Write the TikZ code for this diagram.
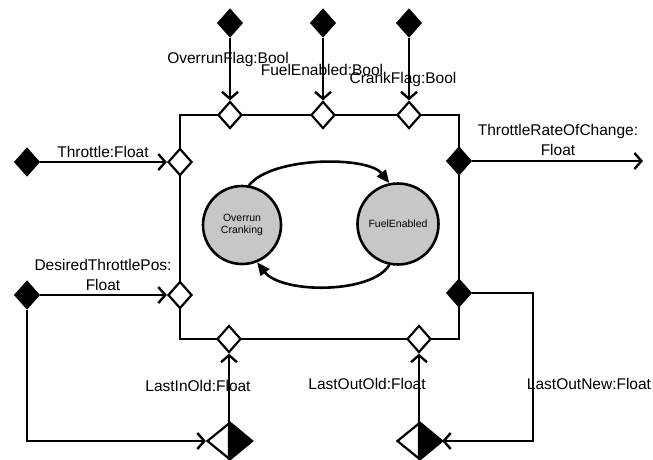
\documentclass[tikz,border=0pt]{standalone}
\usepackage{fontspec}
\setmainfont{Liberation Sans}
\usetikzlibrary{arrows.meta,shapes.geometric}
\begin{document}
\begin{tikzpicture}[x=1pt,y=-1pt,line width=2.6pt,
  inport/.style={diamond,draw,fill=white,minimum width=24pt,minimum height=27pt,inner sep=0pt,line width=2.2pt},
  srcport/.style={diamond,draw,fill=black,minimum width=24pt,minimum height=27pt,inner sep=0pt,line width=2.2pt},
  halfport/.style={diamond,draw,fill=white,minimum width=44pt,minimum height=36pt,inner sep=0pt,line width=2.2pt},
  halffill/.style={fill=black,draw=black,line width=2.2pt,line join=miter},
  flow/.style={line width=2.6pt,-{Straight Barb[length=7pt,width=16pt,line width=2.4pt]}},
  wire/.style={line width=2.6pt},
  trans/.style={line width=2.6pt,-{Triangle[length=13pt,width=11pt]}},
  state/.style={circle,draw,fill=black!22,line width=2.6pt,inner sep=0pt,align=center,font=\fontsize{10.5}{12}\selectfont},
  lbl/.style={align=center,inner sep=0pt,font=\fontsize{15.5}{19.5}\selectfont}]
\useasboundingbox (0,0) rectangle (653,459);
% main box
\draw[wire] (180,115) rectangle (459,339);
% states
\node[state,minimum size=78pt] (oc) at (242,225) {Overrun\\Cranking};
\node[state,minimum size=81pt] (fe) at (398,224) {FuelEnabled};
\draw[trans] (oc.80) .. controls (272,156) and (368,156) .. (fe.102);
\draw[trans] (fe.258) .. controls (372,294) and (282,294) .. (oc.292);
% top inputs
\node[srcport] (sof) at (230,23) {};
\node[srcport] (sfe) at (323,23) {};
\node[srcport] (scf) at (409,23) {};
\node[inport] (pof) at (230,115) {};
\node[inport] (pfe) at (323,115) {};
\node[inport] (pcf) at (409,115) {};
\draw[flow] (sof.south) -- (pof.north);
\draw[flow] (sfe.south) -- (pfe.north);
\draw[flow] (scf.south) -- (pcf.north);
\node[lbl] (lof) at (228,59) {OverrunFlag:Bool};
\node[lbl] (lfe) at (322,70) {FuelEnabled:Bool};
\node[lbl] (lcf) at (403,79) {CrankFlag:Bool};
% left inputs
\node[srcport] (sth) at (27,162) {};
\node[inport] (pth) at (180,162) {};
\draw[flow] (sth.east) -- (pth.west);
\node[lbl] (lth) at (103,152) {Throttle:Float};
\node[srcport] (sdt) at (27,295) {};
\node[inport] (pdt) at (180,295) {};
\draw[flow] (sdt.east) -- (pdt.west);
\node[lbl] (ldt) at (103,275) {DesiredThrottlePos:\\Float};
% right outputs
\node[srcport] (otr) at (459,161) {};
\coordinate (otrend) at (643,161);
\draw[flow] (otr.east) -- (otrend);
\node[lbl] (ltr) at (558,140) {ThrottleRateOfChange:\\Float};
\node[srcport] (olo) at (459,293) {};
% bottom ports
\node[inport] (pli) at (229,339) {};
\node[inport] (plo) at (419,339) {};
\node[halfport] (hli) at (229,441) {};
\node[halfport] (hlo) at (419,441) {};
\filldraw[halffill] (hli.north) -- (hli.east) -- (hli.south) -- cycle;
\filldraw[halffill] (hlo.north) -- (hlo.east) -- (hlo.south) -- cycle;
\draw[flow] (hli.north) -- (pli.south);
\draw[flow] (hlo.north) -- (plo.south);
\draw[flow] (sdt.south) |- (hli.west);
\draw[flow] (olo.east) -- (533,293) |- (hlo.east);
\node[lbl] (lli) at (198,386) {LastInOld:Float};
\node[lbl] (llo) at (367,384) {LastOutOld:Float};
\node[lbl] (lln) at (589,384) {LastOutNew:Float};
\end{tikzpicture}
\end{document}
